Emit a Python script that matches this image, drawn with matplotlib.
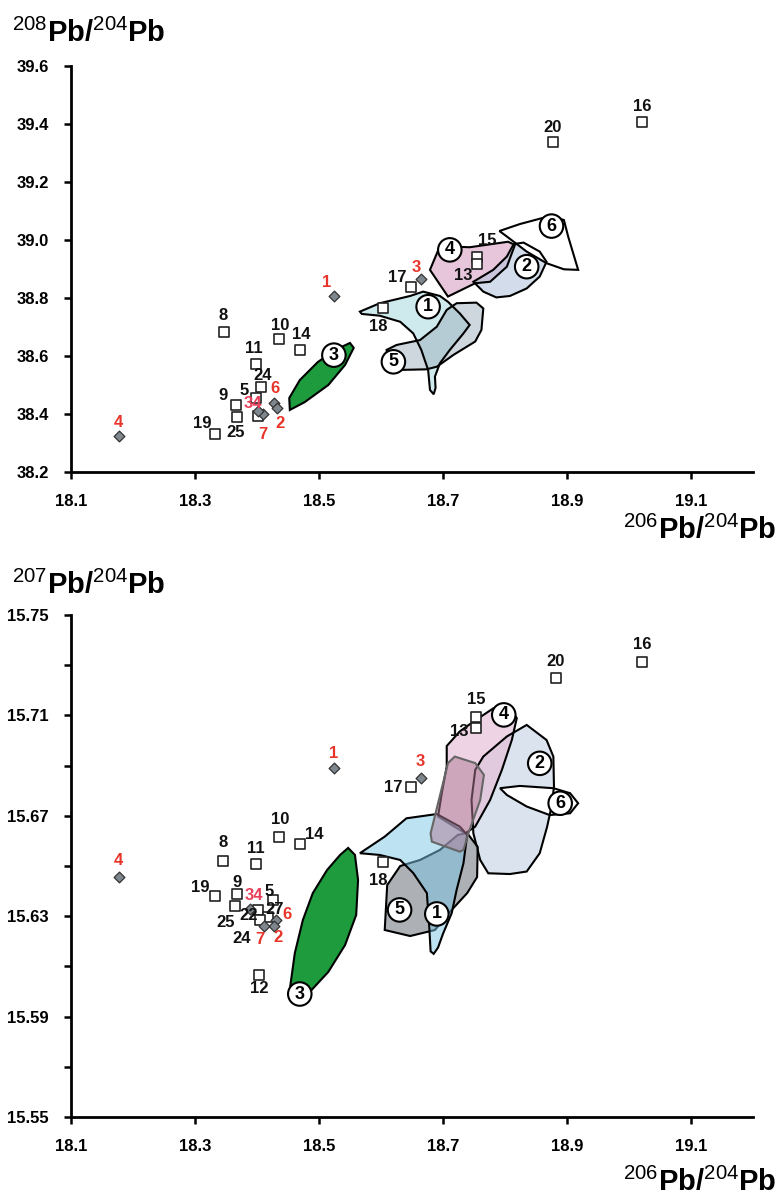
import matplotlib
matplotlib.use('Agg')
import matplotlib.pyplot as plt
from matplotlib.patches import Polygon
from matplotlib.ticker import FixedLocator

plt.rcParams['font.family'] = ['Liberation Sans', 'DejaVu Sans']
plt.rcParams['mathtext.fontset'] = 'custom'
plt.rcParams['mathtext.rm'] = 'Liberation Sans'
plt.rcParams['mathtext.bf'] = 'Liberation Sans:bold'

# ---------------- DATA: top panel (208Pb/204Pb vs 206Pb/204Pb) ----------------
top_sq_labels = ['16', '20', '15', '13', '17', '18', '8', '10', '14', '11', '24', '5', '9', '19', '25', '']
top_sq_x = [19.021, 18.877, 18.755, 18.755, 18.648, 18.603, 18.346, 18.436, 18.470, 18.398, 18.406, 18.399, 18.366, 18.332, 18.368, 18.402]
top_sq_y = [39.407, 39.338, 38.940, 38.918, 38.837, 38.764, 38.682, 38.658, 38.621, 38.572, 38.492, 38.456, 38.431, 38.331, 38.388, 38.392]

top_red_labels = ['1', '3', '4', '6', '2', '7', '34']
top_red_x = [18.524, 18.664, 18.177, 18.427, 18.432, 18.410, 18.402]
top_red_y = [38.808, 38.866, 38.324, 38.439, 38.419, 38.400, 38.410]

# fields (polygons) top
top_f6_x = [18.791, 18.824, 18.859, 18.875, 18.895, 18.902, 18.910, 18.918, 18.895, 18.867, 18.835, 18.803]
top_f6_y = [39.031, 39.055, 39.075, 39.081, 39.069, 39.011, 38.954, 38.897, 38.899, 38.920, 38.960, 39.012]
top_f4_x = [18.679, 18.695, 18.743, 18.805, 18.816, 18.803, 18.776, 18.752, 18.708]
top_f4_y = [38.897, 38.979, 38.975, 38.994, 38.983, 38.908, 38.856, 38.851, 38.805]
top_f2_x = [18.749, 18.781, 18.803, 18.814, 18.830, 18.856, 18.867, 18.856, 18.835, 18.808, 18.786, 18.765]
top_f2_y = [38.856, 38.897, 38.943, 38.986, 38.991, 38.960, 38.925, 38.874, 38.833, 38.807, 38.802, 38.822]
top_f1_x = [18.566, 18.598, 18.647, 18.668, 18.695, 18.708, 18.727, 18.743, 18.733, 18.711, 18.695, 18.687,
            18.688, 18.685, 18.679, 18.676, 18.665, 18.652, 18.631, 18.598, 18.569]
top_f1_y = [38.753, 38.782, 38.807, 38.822, 38.807, 38.787, 38.747, 38.707, 38.678, 38.621, 38.575, 38.529,
            38.490, 38.468, 38.483, 38.552, 38.621, 38.678, 38.718, 38.739, 38.745]
top_f5_x = [18.722, 18.754, 18.765, 18.762, 18.752, 18.717, 18.690, 18.673, 18.631, 18.612, 18.609, 18.625, 18.663, 18.690, 18.706]
top_f5_y = [38.782, 38.784, 38.764, 38.690, 38.650, 38.604, 38.563, 38.554, 38.552, 38.562, 38.621, 38.638, 38.655, 38.701, 38.759]
top_f3_x = [18.453, 18.452, 18.469, 18.498, 18.526, 18.550, 18.556, 18.542, 18.515, 18.477]
top_f3_y = [38.414, 38.455, 38.517, 38.579, 38.621, 38.645, 38.628, 38.569, 38.500, 38.441]

top_field_ids = ['1', '2', '3', '4', '5', '6']
top_field_lx = [18.676, 18.835, 18.524, 18.711, 18.620, 18.875]
top_field_ly = [38.770, 38.908, 38.603, 38.966, 38.580, 39.048]

# ---------------- DATA: bottom panel (207Pb/204Pb vs 206Pb/204Pb) ----------------
bot_sq_labels = ['16', '20', '15', '13', '17', '18', '10', '14', '8', '11', '19', '9', '5', '12', '25', '22', '27', '24']
bot_sq_x = [19.021, 18.882, 18.754, 18.753, 18.648, 18.603, 18.436, 18.470, 18.345, 18.398, 18.332, 18.367, 18.426, 18.404, 18.365, 18.402, 18.418, 18.405]
bot_sq_y = [15.7313, 15.7248, 15.7095, 15.7051, 15.6814, 15.6517, 15.6617, 15.6588, 15.6521, 15.6508, 15.6380, 15.6388, 15.6365, 15.6066, 15.6341, 15.6325, 15.6297, 15.6283]

bot_red_labels = ['1', '3', '4', '6', '2', '7', '34']
bot_red_x = [18.524, 18.664, 18.177, 18.430, 18.427, 18.411, 18.388]
bot_red_y = [15.6890, 15.6852, 15.6456, 15.6285, 15.6261, 15.6261, 15.6328]

bot_f2_x = [18.835, 18.803, 18.765, 18.752, 18.746, 18.749, 18.760, 18.773, 18.808, 18.835, 18.856, 18.868, 18.875, 18.879, 18.878, 18.867]
bot_f2_y = [15.7062, 15.7016, 15.6936, 15.6883, 15.6763, 15.6630, 15.6524, 15.6471, 15.6468, 15.6478, 15.6551, 15.6657, 15.6737, 15.6816, 15.6936, 15.7002]
bot_f6_x = [18.792, 18.824, 18.878, 18.905, 18.918, 18.905, 18.872, 18.835, 18.803]
bot_f6_y = [15.6810, 15.6819, 15.6810, 15.6790, 15.6750, 15.6710, 15.6703, 15.6737, 15.6783]
bot_f4_x = [18.706, 18.727, 18.749, 18.781, 18.805, 18.819, 18.811, 18.795, 18.776, 18.752, 18.736, 18.692, 18.698, 18.706]
bot_f4_y = [15.6978, 15.7036, 15.7075, 15.7128, 15.7142, 15.7089, 15.7002, 15.6883, 15.6763, 15.6657, 15.6630, 15.6697, 15.6790, 15.6896]
bot_f5_x = [18.606, 18.610, 18.631, 18.663, 18.695, 18.724, 18.739, 18.756, 18.755, 18.739, 18.711, 18.687, 18.647]
bot_f5_y = [15.6245, 15.6424, 15.6500, 15.6524, 15.6564, 15.6624, 15.6631, 15.6576, 15.6456, 15.6392, 15.6317, 15.6245, 15.6221]
bot_f1_x = [18.566, 18.606, 18.641, 18.690, 18.727, 18.739, 18.733, 18.722, 18.714, 18.700, 18.692, 18.685,
            18.680, 18.678, 18.674, 18.652, 18.631, 18.598]
bot_f1_y = [15.6551, 15.6617, 15.6690, 15.6707, 15.6657, 15.6624, 15.6511, 15.6405, 15.6312, 15.6230, 15.6175, 15.6150,
            15.6160, 15.6250, 15.6392, 15.6472, 15.6524, 15.6544]
bot_fr_x = [18.719, 18.752, 18.766, 18.760, 18.741, 18.733, 18.727, 18.682, 18.680, 18.708]
bot_fr_y = [15.6936, 15.6910, 15.6863, 15.6763, 15.6630, 15.6564, 15.6557, 15.6597, 15.6630, 15.6910]
bot_f3_x = [18.463, 18.453, 18.461, 18.474, 18.490, 18.513, 18.534, 18.547, 18.558, 18.563, 18.560, 18.542, 18.515, 18.485]
bot_f3_y = [15.5960, 15.6010, 15.6153, 15.6285, 15.6392, 15.6484, 15.6544, 15.6572, 15.6544, 15.6444, 15.6305, 15.6185, 15.6078, 15.5998]

bot_field_ids = ['1', '2', '3', '4', '5', '6']
bot_field_lx = [18.690, 18.856, 18.469, 18.798, 18.630, 18.889]
bot_field_ly = [15.6309, 15.6909, 15.5990, 15.7102, 15.6325, 15.6750]

x_ticks = [18.1, 18.3, 18.5, 18.7, 18.9, 19.1]

# ---------------- label placement (pixel offsets: right, up) ----------------
top_sq_off = {'16': (0, 15), '20': (0, 14), '15': (10, 17), '13': (-14, -12), '17': (-14, 10), '18': (-5, -18),
              '8': (0, 17), '10': (1, 14), '14': (1, 15), '11': (-2, 16), '24': (2, 12), '5': (-12, 7),
              '9': (-13, 10), '19': (-13, 11), '25': (-2, -15), '': (0, 0)}
top_red_off = {'1': (-7, 13), '3': (-4, 11), '4': (0, 14), '6': (1, 14), '2': (3, -15), '7': (0, -20), '34': (-5, 8)}
bot_sq_off = {'16': (0, 17), '20': (0, 17), '15': (0, 17), '13': (-17, -4), '17': (-18, 0), '18': (-5, -19),
              '10': (1, 17), '14': (14, 9), '8': (0, 18), '11': (0, 15), '19': (-15, 9), '9': (0, 12),
              '5': (-4, 8), '12': (0, -14), '25': (-10, -17), '22': (-10, -6), '27': (6, 7), '24': (-18, -18)}
bot_red_off = {'1': (0, 15), '3': (0, 16), '4': (0, 17), '6': (11, 5), '7': (-4, -14), '2': (4, -12), '34': (4, 14)}

RED = '#e8352a'
PX = 0.72  # points per pixel at dpi 100

fig = plt.figure(figsize=(7.8, 12.01), dpi=100)
ax1 = fig.add_axes([71 / 780, 1 - 472 / 1201, 682 / 780, 406 / 1201])
ax2 = fig.add_axes([71 / 780, 1 - 1117 / 1201, 682 / 780, 502 / 1201])


def style_axis(ax):
    for s in ['top', 'right']:
        ax.spines[s].set_visible(False)
    for s in ['left', 'bottom']:
        ax.spines[s].set_linewidth(2.0)
    ax.tick_params(axis='both', which='major', direction='out', length=5, width=1.8,
                   labelsize=12, pad=11)
    ax.tick_params(axis='y', which='minor', direction='out', length=5, width=1.8)
    for lab in ax.get_xticklabels() + ax.get_yticklabels():
        lab.set_fontweight('bold')


def add_field(ax, xs, ys, fc, alpha, ec='black', lw=1.5, z=2):
    ax.add_patch(Polygon(list(zip(xs, ys)), closed=True, facecolor=fc, alpha=alpha,
                         edgecolor='none', zorder=z))
    ax.add_patch(Polygon(list(zip(xs, ys)), closed=True, facecolor='none',
                         edgecolor=ec, lw=lw, zorder=z + 0.5))


def draw_points(ax, sx, sy, slabels, soff, rx, ry, rlabels, roff):
    ax.scatter(sx, sy, marker='s', s=42, facecolor='white', edgecolor='#222222', linewidth=1.2, zorder=6)
    ax.scatter(rx, ry, marker='D', s=30, facecolor='#7e878e', edgecolor='#333333', linewidth=0.9, zorder=7)
    for lab, x, y in zip(slabels, sx, sy):
        if lab:
            dx, dy = soff[lab]
            ax.annotate(lab, (x, y), xytext=(dx * PX, dy * PX), textcoords='offset points',
                        ha='center', va='center', fontsize=12, fontweight='bold', color='#111111', zorder=8)
    for lab, x, y in zip(rlabels, rx, ry):
        dx, dy = roff[lab]
        col = '#e8405a' if lab == '34' else RED
        ax.annotate(lab, (x, y), xytext=(dx * PX, dy * PX), textcoords='offset points',
                    ha='center', va='center', fontsize=12, fontweight='bold', color=col, zorder=8)


def field_labels(ax, ids, lx, ly):
    for t, x, y in zip(ids, lx, ly):
        ax.text(x, y, t, ha='center', va='center', fontsize=13, fontweight='bold', zorder=9,
                bbox=dict(boxstyle='circle,pad=0.18', facecolor='white', edgecolor='black', linewidth=1.5))


# ---- top panel
add_field(ax1, top_f1_x, top_f1_y, '#bfe3e8', 0.75)
add_field(ax1, top_f5_x, top_f5_y, '#9fb0bd', 0.5)
add_field(ax1, top_f4_x, top_f4_y, '#e2b8d4', 0.8)
add_field(ax1, top_f2_x, top_f2_y, '#b5c6dd', 0.6)
add_field(ax1, top_f6_x, top_f6_y, 'white', 1.0)
add_field(ax1, top_f3_x, top_f3_y, '#1e9b3c', 1.0)
draw_points(ax1, top_sq_x, top_sq_y, top_sq_labels, top_sq_off, top_red_x, top_red_y, top_red_labels, top_red_off)
field_labels(ax1, top_field_ids, top_field_lx, top_field_ly)
ax1.set_xlim(18.1, 19.2)
ax1.set_ylim(38.2, 39.6)
ax1.xaxis.set_major_locator(FixedLocator(x_ticks))
ax1.yaxis.set_major_locator(FixedLocator([38.2, 38.4, 38.6, 38.8, 39.0, 39.2, 39.4, 39.6]))
ax1.set_xticklabels([f'{v:.1f}' for v in x_ticks])
ax1.set_yticklabels(['38.2', '38.4', '38.6', '38.8', '39.0', '39.2', '39.4', '39.6'])
style_axis(ax1)

# ---- bottom panel
add_field(ax2, bot_f2_x, bot_f2_y, '#c9d6e5', 0.65)
add_field(ax2, bot_f6_x, bot_f6_y, 'white', 1.0)
add_field(ax2, bot_f5_x, bot_f5_y, '#8a9096', 0.7, z=3)
add_field(ax2, bot_f1_x, bot_f1_y, '#7cc6e6', 0.5, z=4)
add_field(ax2, bot_f4_x, bot_f4_y, '#e6bcd6', 0.65, ec='black', z=2.2)
add_field(ax2, bot_fr_x, bot_fr_y, '#b07a96', 0.5, ec='#666666', z=4.5)
add_field(ax2, bot_f3_x, bot_f3_y, '#1e9b3c', 1.0)
draw_points(ax2, bot_sq_x, bot_sq_y, bot_sq_labels, bot_sq_off, bot_red_x, bot_red_y, bot_red_labels, bot_red_off)
field_labels(ax2, bot_field_ids, bot_field_lx, bot_field_ly)
ax2.set_xlim(18.1, 19.2)
ax2.set_ylim(15.55, 15.75)
ax2.xaxis.set_major_locator(FixedLocator(x_ticks))
ax2.set_xticklabels([f'{v:.1f}' for v in x_ticks])
ymaj = [15.55, 15.59, 15.63, 15.67, 15.71, 15.75]
ax2.yaxis.set_major_locator(FixedLocator(ymaj))
ax2.yaxis.set_minor_locator(FixedLocator([15.57, 15.61, 15.65, 15.69, 15.73]))
ax2.set_yticklabels([f'{v:.2f}' for v in ymaj])
style_axis(ax2)

lab208 = r'$^{\mathrm{208}}$Pb/$^{\mathrm{204}}$Pb'
lab207 = r'$^{\mathrm{207}}$Pb/$^{\mathrm{204}}$Pb'
lab206 = r'$^{\mathrm{206}}$Pb/$^{\mathrm{204}}$Pb'
fig.text(12 / 780, 1 - 33 / 1201, lab208, ha='left', va='center', fontsize=21, fontweight='bold')
fig.text(12 / 780, 1 - 585 / 1201, lab207, ha='left', va='center', fontsize=21, fontweight='bold')
fig.text(776 / 780, 1 - 530 / 1201, lab206, ha='right', va='center', fontsize=21, fontweight='bold')
fig.text(776 / 780, 1 - 1182 / 1201, lab206, ha='right', va='center', fontsize=21, fontweight='bold')

fig.savefig('out.png', dpi=100)
